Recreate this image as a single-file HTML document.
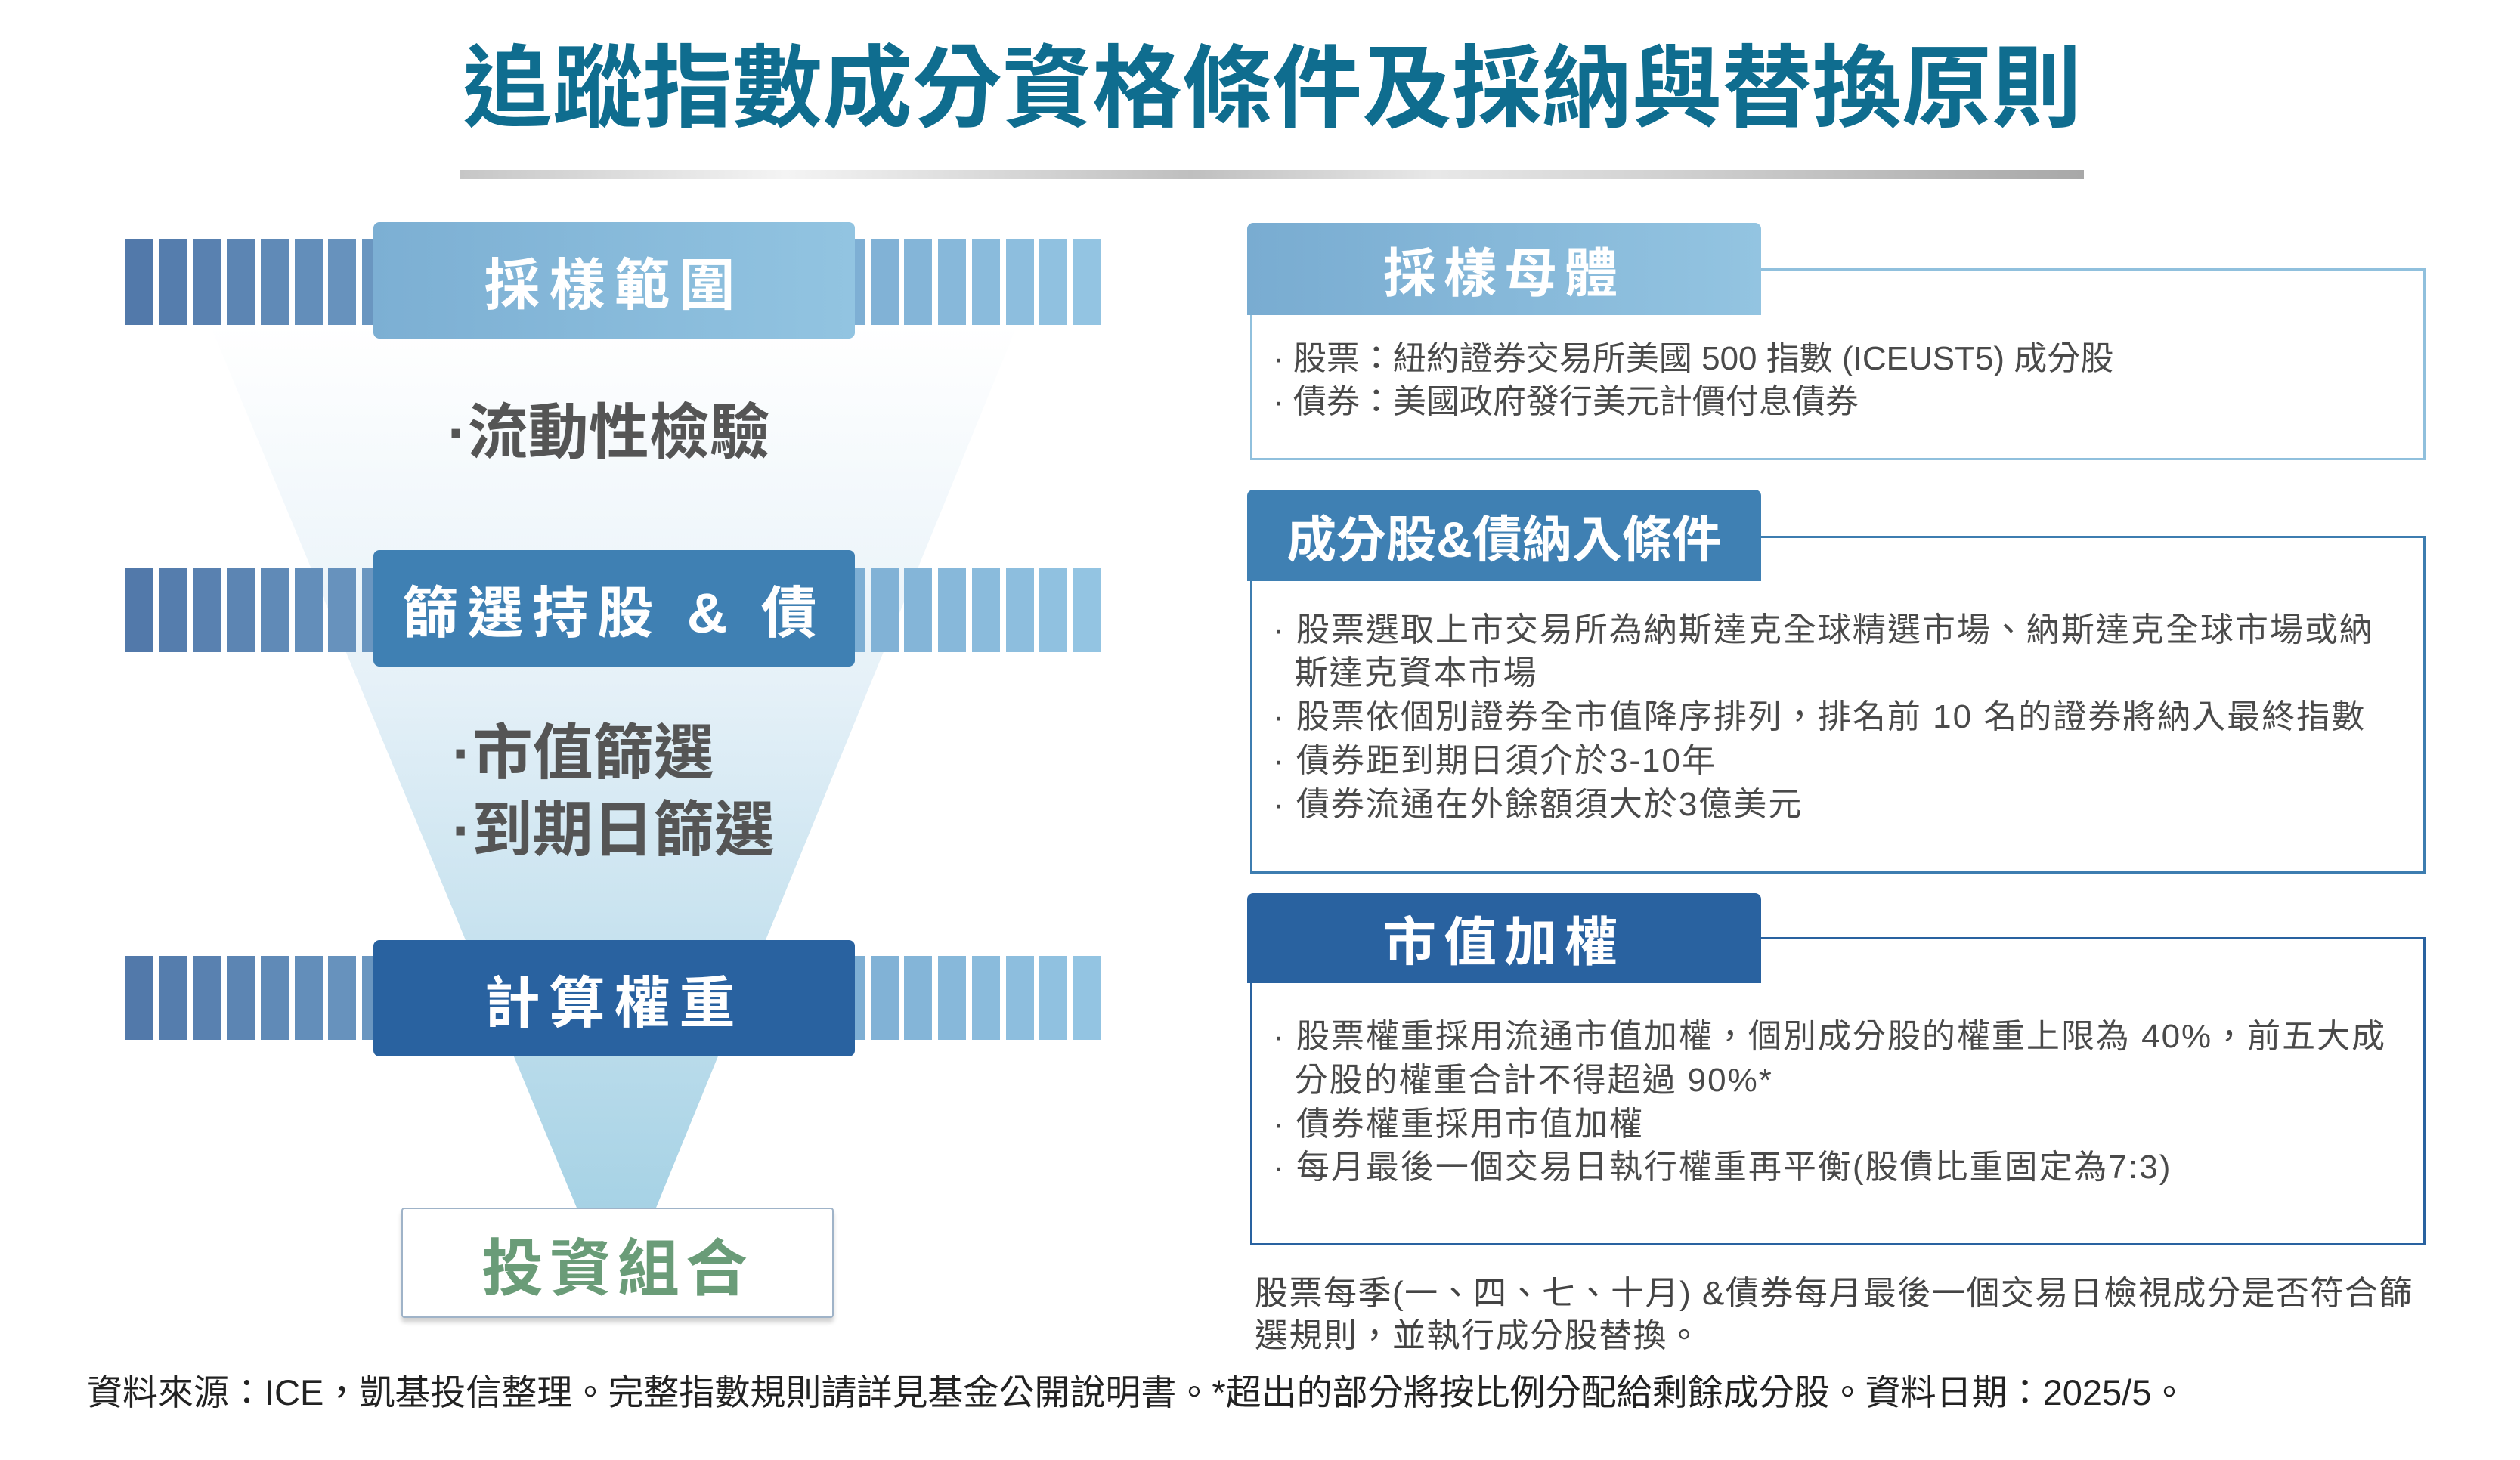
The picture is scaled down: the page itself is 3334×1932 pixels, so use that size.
<!DOCTYPE html>
<html><head><meta charset="utf-8"><style>
*{margin:0;padding:0;box-sizing:border-box}
body{width:3334px;height:1932px;background:#fff;position:relative;overflow:hidden;font-family:"Liberation Sans","Noto Sans CJK TC",sans-serif}
.a{position:absolute}
.t{position:absolute;white-space:nowrap}
.st{position:absolute;width:37px}
.lb{position:absolute;border-radius:8px;color:#fff;font-weight:bold;display:flex;align-items:center;justify-content:center;font-size:74px;letter-spacing:12px}
.hd{position:absolute;left:1650px;width:680px;border-radius:8px 8px 0 0;color:#fff;font-weight:bold;display:flex;align-items:center;justify-content:center}
.fr{position:absolute;left:1654px;width:1555px;background:#fff}
.ln{position:absolute;left:1684px;font-size:44px;color:#4a4a4a;white-space:nowrap;letter-spacing:2px}
</style></head><body>

<div class="t" style="left:560px;top:38px;width:2246px;text-align:center;font-size:119px;font-weight:bold;color:#0f6d8f;line-height:160px">追蹤指數成分資格條件及採納與替換原則</div>
<div class="a" style="left:609px;top:225px;width:2148px;height:12px;background:linear-gradient(90deg,#c6c6c6,#f4f4f4 20%,#bfbfbf 45%,#e8e8e8 60%,#a8a8a8 100%)"></div>

<svg class="a" style="left:0;top:0" width="1600" height="1932">
<defs><linearGradient id="g" x1="0" y1="0" x2="0" y2="1"><stop offset="0" stop-color="#ffffff"/><stop offset="0.4" stop-color="#e6f1f8"/><stop offset="1" stop-color="#a6d2e5"/></linearGradient></defs>
<polygon points="278,430 1346,430 866,1603 765,1603" fill="url(#g)"/>
</svg>

<div id="rows"></div>
<script>
var ys=[[316,114],[752,111],[1265,111]];
var h='';
ys.forEach(function(r){
 for(var i=0;i<8;i++){var x=166+i*44.7;var c1=[82,121,170],c2=[106,150,192];var f=i/7;
 var c='rgb('+Math.round(c1[0]+(c2[0]-c1[0])*f)+','+Math.round(c1[1]+(c2[1]-c1[1])*f)+','+Math.round(c1[2]+(c2[2]-c1[2])*f)+')';
 h+='<div class="st" style="left:'+x+'px;top:'+r[0]+'px;height:'+r[1]+'px;background:'+c+'"></div>';}
 for(var i=0;i<8;i++){var x=1107+i*44.7;var c1=[126,175,212],c2=[147,196,226];var f=i/7;
 var c='rgb('+Math.round(c1[0]+(c2[0]-c1[0])*f)+','+Math.round(c1[1]+(c2[1]-c1[1])*f)+','+Math.round(c1[2]+(c2[2]-c1[2])*f)+')';
 h+='<div class="st" style="left:'+x+'px;top:'+r[0]+'px;height:'+r[1]+'px;background:'+c+'"></div>';}
});
document.getElementById('rows').innerHTML=h;
</script>

<div class="lb" style="left:494px;top:294px;width:637px;height:154px;background:linear-gradient(90deg,#7cafd3,#92c4e1)">採樣範圍</div>
<div class="lb" style="left:494px;top:728px;width:637px;height:154px;background:#3f80b3">篩選持股 &amp; 債</div>
<div class="lb" style="left:494px;top:1244px;width:637px;height:154px;background:#2962a0">計算權重</div>
<div class="lb" style="left:531px;top:1598px;width:572px;height:146px;background:#fff;border:2px solid #9fb3c8;border-radius:4px;color:#6a9c78;font-size:82px;letter-spacing:8px;box-shadow:0 6px 6px rgba(0,0,0,0.18)">投資組合</div>

<div class="t" style="left:592px;top:508px;font-size:80px;font-weight:bold;color:#555">·流動性檢驗</div>
<div class="t" style="left:598px;top:932px;font-size:80px;font-weight:bold;color:#555">·市值篩選</div>
<div class="t" style="left:598px;top:1034px;font-size:80px;font-weight:bold;color:#555">·到期日篩選</div>

<div class="fr" style="top:355px;height:254px;border:3px solid #90c0dd"></div>
<div class="hd" style="top:295px;height:122px;background:linear-gradient(90deg,#79acd1,#93c4e1);font-size:70px;letter-spacing:10px">採樣母體</div>
<div class="ln" style="top:438px;letter-spacing:0">· 股票：紐約證券交易所美國 500 指數 (ICEUST5) 成分股</div>
<div class="ln" style="top:495px;letter-spacing:0">· 債券：美國政府發行美元計價付息債券</div>

<div class="fr" style="top:709px;height:447px;border:3px solid #3d7db0"></div>
<div class="hd" style="top:648px;height:121px;background:#3f80b3;font-size:66px">成分股&amp;債納入條件</div>
<div class="ln" style="top:797px">· 股票選取上市交易所為納斯達克全球精選市場、納斯達克全球市場或納</div>
<div class="ln" style="top:854px">&nbsp;&nbsp;斯達克資本市場</div>
<div class="ln" style="top:912px">· 股票依個別證券全市值降序排列，排名前 10 名的證券將納入最終指數</div>
<div class="ln" style="top:970px">· 債券距到期日須介於3-10年</div>
<div class="ln" style="top:1028px">· 債券流通在外餘額須大於3億美元</div>

<div class="fr" style="top:1240px;height:408px;border:3px solid #2962a0"></div>
<div class="hd" style="top:1182px;height:119px;background:#2962a0;font-size:70px;letter-spacing:10px">市值加權</div>
<div class="ln" style="top:1335px">· 股票權重採用流通市值加權，個別成分股的權重上限為 40%，前五大成</div>
<div class="ln" style="top:1393px">&nbsp;&nbsp;分股的權重合計不得超過 90%*</div>
<div class="ln" style="top:1451px">· 債券權重採用市值加權</div>
<div class="ln" style="top:1508px">· 每月最後一個交易日執行權重再平衡(股債比重固定為7:3)</div>

<div class="t" style="left:1660px;top:1675px;font-size:44px;color:#444;letter-spacing:1.5px">股票每季(一、四、七、十月) &amp;債券每月最後一個交易日檢視成分是否符合篩</div>
<div class="t" style="left:1660px;top:1731px;font-size:44px;color:#444;letter-spacing:1.5px">選規則，並執行成分股替換。</div>

<div class="t" style="left:115px;top:1804px;font-size:47px;color:#222">資料來源：ICE，凱基投信整理。完整指數規則請詳見基金公開說明書。*超出的部分將按比例分配給剩餘成分股。資料日期：2025/5。</div>
</body></html>
